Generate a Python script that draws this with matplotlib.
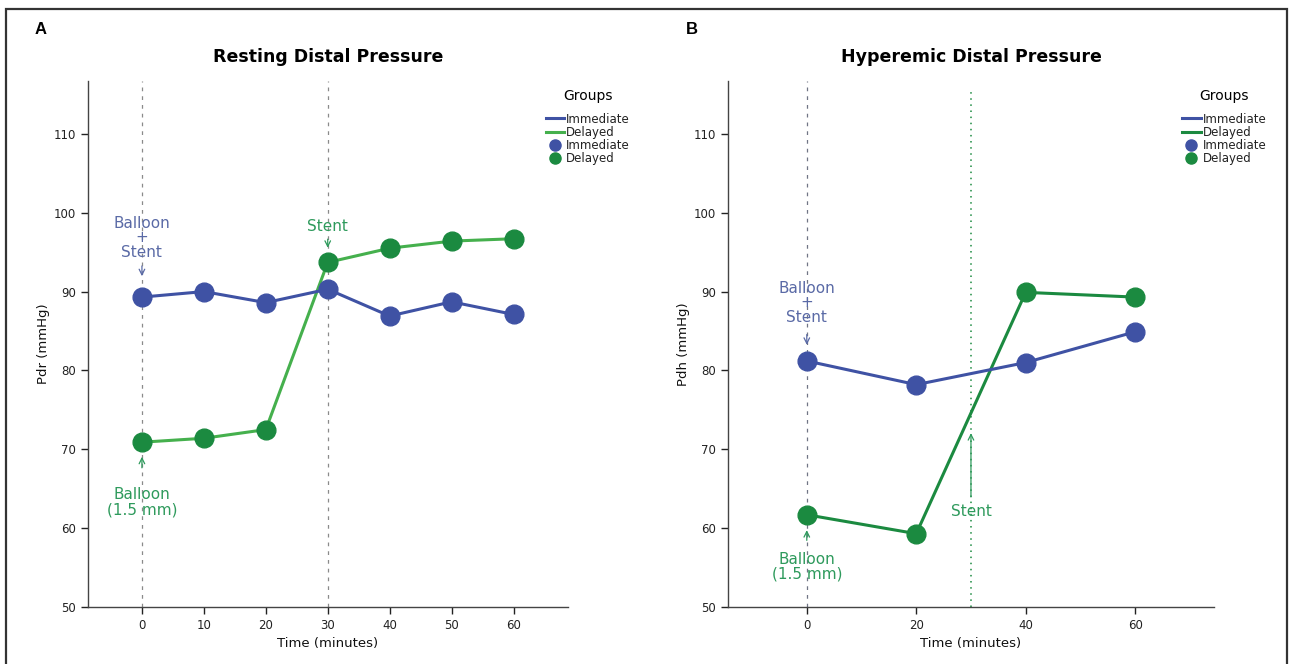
import numpy as np
import matplotlib.pyplot as plt
from matplotlib.lines import Line2D
from matplotlib.patches import Rectangle

plt.rcParams['font.family'] = ['DejaVu Sans']

# resting distal pressure (Pdr), mmHg
rest_time = [0, 10, 20, 30, 40, 50, 60]
rest_immediate = [89.3, 90.0, 88.6, 90.3, 86.9, 88.7, 87.1]
rest_delayed = [70.9, 71.4, 72.5, 93.7, 95.5, 96.4, 96.7]

# hyperemic distal pressure (Pdh), mmHg
hyp_time = [0, 20, 40, 60]
hyp_immediate = [81.2, 78.2, 81.0, 84.9]
hyp_delayed = [61.7, 59.3, 89.9, 89.3]

groups = ['Immediate', 'Delayed']

BLUE = '#3f52a4'
BLUE_TXT = '#5a6aa6'
GREEN_DARK = '#1b8a40'
GREEN_LIGHT = '#45b04d'
GREEN_TXT = '#2e9a5c'

fig = plt.figure(figsize=(12.91, 6.64), dpi=100)

# outer frame
fig.patches.append(Rectangle((0.0047, -0.01), 0.9923, 0.997, transform=fig.transFigure,
                             fill=False, lw=1.6, ec='#333333'))

axA = fig.add_axes([0.0682, 0.0858, 0.3718, 0.7922])
axB = fig.add_axes([0.5639, 0.0858, 0.3764, 0.7922])


def style_axes(ax, xticks, xlim, ylabel):
    ax.set_ylim(50, 116.7)
    ax.set_xlim(*xlim)
    ax.set_yticks([50, 60, 70, 80, 90, 100, 110])
    ax.set_xticks(xticks)
    for s in ['top', 'right']:
        ax.spines[s].set_visible(False)
    for s in ['left', 'bottom']:
        ax.spines[s].set_color('#444444')
        ax.spines[s].set_linewidth(1.0)
    ax.tick_params(axis='both', labelsize=8.5, colors='#222222', length=5, width=1.0)
    ax.set_xlabel('Time (minutes)', fontsize=9.5, labelpad=4, color='#111111')
    ax.set_ylabel(ylabel, fontsize=9.5, labelpad=3, color='#111111')


def legend(ax, delayed_line_color, x, y):
    handles = [
        Line2D([], [], color=BLUE, lw=2.2),
        Line2D([], [], color=delayed_line_color, lw=2.2),
        Line2D([], [], color=BLUE, ls='none', marker='o', ms=8),
        Line2D([], [], color=GREEN_DARK, ls='none', marker='o', ms=8),
    ]
    labels = groups + groups
    leg = ax.legend(handles, labels, title='Groups', loc='upper left',
                    bbox_to_anchor=(x, y), bbox_transform=fig.transFigure,
                    frameon=False, fontsize=8.5, title_fontsize=10,
                    handlelength=1.6, handletextpad=0.15, labelspacing=0.02,
                    borderpad=0, markerscale=1.0)
    leg._legend_box.align = 'center'
    leg._legend_box.sep = 7
    for t in leg.get_texts():
        t.set_color('#222222')


# ---- A: resting ----
style_axes(axA, rest_time, (-8.7, 68.8), 'Pdr (mmHg)')
axA.axvline(0, color='#8a8a8a', ls=(0, (3, 4)), lw=0.9)
axA.axvline(30, color='#8a8a8a', ls=(0, (3, 4)), lw=0.9)
axA.plot(rest_time, rest_delayed, color=GREEN_LIGHT, lw=2.2, zorder=3)
axA.plot(rest_time, rest_immediate, color=BLUE, lw=2.2, zorder=3)
axA.plot(rest_time, rest_immediate, 'o', color=BLUE, ms=13.5, zorder=4)
axA.plot(rest_time, rest_delayed, 'o', color=GREEN_DARK, ms=13.5, zorder=4)
axA.set_title('Resting Distal Pressure', fontsize=12.5, fontweight='bold', pad=14)

axA.text(0, 96.8, 'Balloon\n+\nStent', ha='center', va='center', color=BLUE_TXT,
         fontsize=11, linespacing=0.95)
axA.annotate('', xy=(0, 91.6), xytext=(0, 93.6),
             arrowprops=dict(arrowstyle='->', color=BLUE_TXT, lw=0.9))
axA.text(30, 98.2, 'Stent', ha='center', va='center', color=GREEN_TXT, fontsize=11)
axA.annotate('', xy=(30, 95.2), xytext=(30, 97.0),
             arrowprops=dict(arrowstyle='->', color=GREEN_TXT, lw=0.9))
axA.annotate('', xy=(0, 69.4), xytext=(0, 67.3),
             arrowprops=dict(arrowstyle='->', color=GREEN_TXT, lw=0.9))
axA.text(0, 63.3, 'Balloon\n(1.5 mm)', ha='center', va='center', color=GREEN_TXT,
         fontsize=11, linespacing=1.0)

# ---- B: hyperemic ----
style_axes(axB, hyp_time, (-14.4, 74.4), 'Pdh (mmHg)')
axB.axvline(0, color='#707585', ls=(0, (3, 4)), lw=0.9)
axB.plot([30, 30], [50, 115.8], color=GREEN_DARK, ls=(0, (1, 3)), lw=1.1)
axB.plot(hyp_time, hyp_delayed, color=GREEN_DARK, lw=2.2, zorder=3)
axB.plot(hyp_time, hyp_immediate, color=BLUE, lw=2.2, zorder=3)
axB.plot(hyp_time, hyp_immediate, 'o', color=BLUE, ms=13.5, zorder=4)
axB.plot(hyp_time, hyp_delayed, 'o', color=GREEN_DARK, ms=13.5, zorder=4)
axB.set_title('Hyperemic Distal Pressure', fontsize=12.5, fontweight='bold', pad=14)

axB.text(0, 88.6, 'Balloon\n+\nStent', ha='center', va='center', color=BLUE_TXT,
         fontsize=11, linespacing=0.95)
axB.annotate('', xy=(0, 82.9), xytext=(0, 84.9),
             arrowprops=dict(arrowstyle='->', color=BLUE_TXT, lw=0.9))
axB.annotate('', xy=(0, 60.1), xytext=(0, 58.1),
             arrowprops=dict(arrowstyle='->', color=GREEN_TXT, lw=0.9))
axB.text(0, 55.1, 'Balloon\n(1.5 mm)', ha='center', va='center', color=GREEN_TXT,
         fontsize=11, linespacing=1.0)
axB.annotate('', xy=(30, 72.4), xytext=(30, 63.6),
             arrowprops=dict(arrowstyle='->', color=GREEN_TXT, lw=0.9))
axB.text(30, 62.1, 'Stent', ha='center', va='center', color=GREEN_TXT, fontsize=11)

legend(axA, GREEN_LIGHT, 0.418, 0.875)
legend(axB, GREEN_DARK, 0.911, 0.875)

# panel letters
fig.text(0.027, 0.955, 'A', fontsize=12, fontweight='bold', family='Liberation Sans', va='center')
fig.text(0.531, 0.955, 'B', fontsize=12, fontweight='bold', family='Liberation Sans', va='center')

fig.savefig('out.png', dpi=100)
